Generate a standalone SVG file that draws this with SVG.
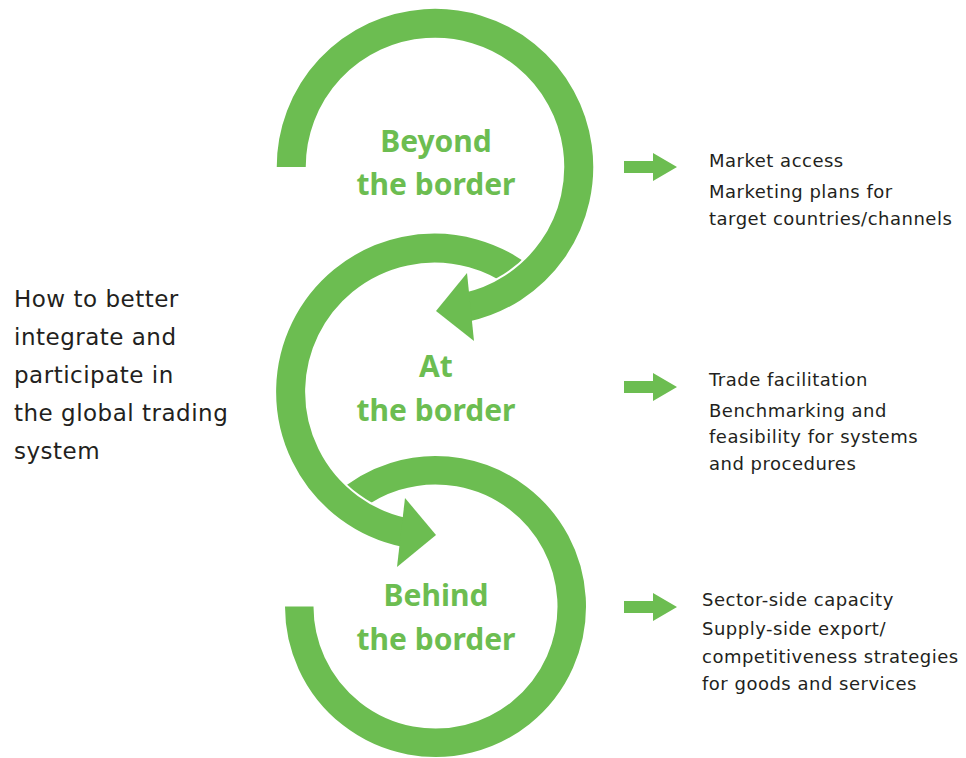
<svg xmlns="http://www.w3.org/2000/svg" width="966" height="758" viewBox="0 0 966 758">
<style>
.ring{fill:none;stroke:#6cbd51;stroke-linecap:butt}
.under{fill:none;stroke:#ffffff;stroke-linecap:butt}
.head{fill:#6cbd51}
.lbl{font-family:"Noto Sans","Liberation Sans",sans-serif;font-weight:700;font-size:30px;fill:#6cbd51;text-anchor:middle}
.body{font-family:"DejaVu Sans","Liberation Sans",sans-serif;font-size:18px;letter-spacing:0.5px;fill:#231f20}
.big{font-family:"DejaVu Sans","Liberation Sans",sans-serif;font-size:23px;letter-spacing:0.5px;fill:#231f20}
</style>
<rect width="966" height="758" fill="#ffffff"/>
<g id="connectors">
  <path class="ring" stroke-width="28.5" d="M344.3,505.3 A136.25,136.25 0 1 1 299.25,606.5"/>
  <path class="under" stroke-width="33" d="M527.2,282.1 A143.75,143.75 0 1 0 405.1,532.6"/>
  <path class="ring" stroke-width="29" d="M527.2,282.1 A143.75,143.75 0 1 0 405.1,532.6"/>
  <polygon class="head" points="405,498 436,535 397,567"/>
  <path class="under" stroke-width="33" d="M291.25,167 A143.75,143.75 0 1 1 464.9,307.6"/>
  <path class="ring" stroke-width="29" d="M291.25,167 A143.75,143.75 0 1 1 464.9,307.6"/>
  <polygon class="head" points="467,273 436,311 474,341"/>
  <polygon class="head" points="624,161 653,161 653,153 677,167 653,181 653,173 624,173"/>
  <polygon class="head" points="624,381 653,381 653,373 677,387 653,401 653,393 624,393"/>
  <polygon class="head" points="624,601 653,601 653,593 677,607 653,621 653,613 624,613"/>
</g>
<g id="node-beyond">
  <text class="lbl" x="436" y="152">Beyond</text>
  <text class="lbl" x="436" y="195">the border</text>
</g>
<g id="node-at">
  <text class="lbl" x="436" y="377">At</text>
  <text class="lbl" x="436" y="421">the border</text>
</g>
<g id="node-behind">
  <text class="lbl" x="436" y="606">Behind</text>
  <text class="lbl" x="436" y="650">the border</text>
</g>
<g id="node-question">
  <text class="big" x="14" y="307">How to better</text>
  <text class="big" x="14" y="345">integrate and</text>
  <text class="big" x="14" y="383">participate in</text>
  <text class="big" x="14" y="421">the global trading</text>
  <text class="big" x="14" y="459">system</text>
</g>
<g id="node-market">
  <text class="body" x="709" y="167">Market access</text>
  <text class="body" x="709" y="198">Marketing plans for</text>
  <text class="body" x="709" y="225">target countries/channels</text>
</g>
<g id="node-trade">
  <text class="body" x="709" y="386">Trade facilitation</text>
  <text class="body" x="709" y="417">Benchmarking and</text>
  <text class="body" x="709" y="443">feasibility for systems</text>
  <text class="body" x="709" y="470">and procedures</text>
</g>
<g id="node-sector">
  <text class="body" x="702" y="606">Sector-side capacity</text>
  <text class="body" x="702" y="635">Supply-side export/</text>
  <text class="body" x="702" y="663">competitiveness strategies</text>
  <text class="body" x="702" y="690">for goods and services</text>
</g>
</svg>
